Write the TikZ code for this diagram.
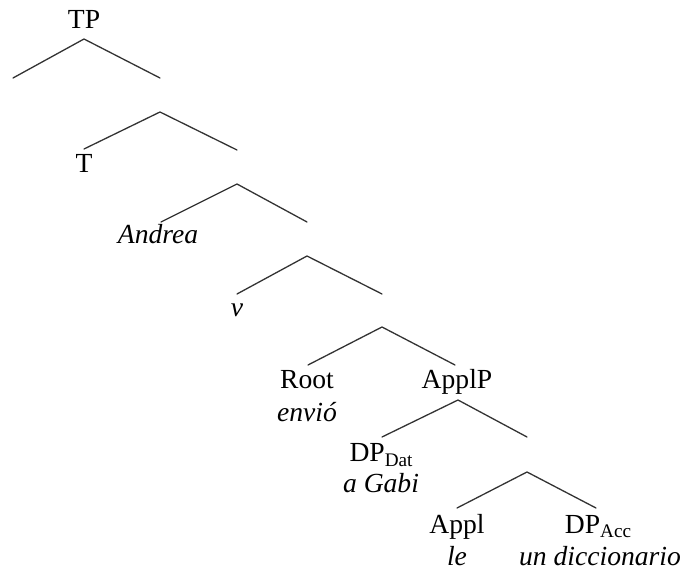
\documentclass[tikz,border=0pt]{standalone}
\usepackage{fontspec}
\setmainfont{Liberation Serif}
% lowered, smaller subscript for category labels
\newcommand{\catsub}[1]{\raisebox{-0.16em}{\fontsize{9.6}{10}\selectfont #1}}
\begin{document}
\begin{tikzpicture}[x=0.5pt, y=-0.5pt,
  branch/.style={line width=0.65pt, draw=black!80, line cap=round},
  word/.style={anchor=base, inner sep=0pt, outer sep=0pt,
    font=\fontsize{13.8}{16}\selectfont},
  gloss/.style={word, font=\fontsize{13.8}{16}\selectfont\itshape}]
\useasboundingbox (0,0) rectangle (680,571);

% branching points and branch ends
\coordinate (a1) at (84,39);
\coordinate (e1l) at (13,78);   \coordinate (e1r) at (160,78);
\coordinate (a2) at (160,112);
\coordinate (e2l) at (84,149);  \coordinate (e2r) at (237,150);
\coordinate (a3) at (237,184);
\coordinate (e3l) at (161,222); \coordinate (e3r) at (307,222);
\coordinate (a4) at (307,256);
\coordinate (e4l) at (237,294); \coordinate (e4r) at (382,294);
\coordinate (a5) at (382,327);
\coordinate (e5l) at (308,365); \coordinate (e5r) at (455,365);
\coordinate (a6) at (458,400);
\coordinate (e6l) at (382,437); \coordinate (e6r) at (527,437);
\coordinate (a7) at (527,472);
\coordinate (e7l) at (457,508); \coordinate (e7r) at (596,508);

% labels
\node[word]  (tp)     at (84,29)  {TP};
\node[word]  (t)      at (84,173) {T};
\node[gloss] (andrea) at (158,244) {Andrea};
\node[gloss] (v)      at (237,317) {v};
\node[word]  (root)   at (307,389) {Root};
\node[gloss] (envio)  at (307,422) {envió};
\node[word]  (applp)  at (457,389) {ApplP};
\node[word]  (dpdat)  at (381,462) {DP\catsub{Dat}};
\node[gloss] (gabi)   at (381,493) {a Gabi};
\node[word]  (appl)   at (457,533) {Appl};
\node[gloss] (le)     at (457,565) {le};
\node[word]  (dpacc)  at (598,533) {DP\catsub{Acc}};
\node[gloss] (dicc)   at (600,565) {un diccionario};

% branches
\draw[branch] (e1l) -- (a1) -- (e1r);
\draw[branch] (e2l) -- (a2) -- (e2r);
\draw[branch] (e3l) -- (a3) -- (e3r);
\draw[branch] (e4l) -- (a4) -- (e4r);
\draw[branch] (e5l) -- (a5) -- (e5r);
\draw[branch] (e6l) -- (a6) -- (e6r);
\draw[branch] (e7l) -- (a7) -- (e7r);
\end{tikzpicture}
\end{document}
